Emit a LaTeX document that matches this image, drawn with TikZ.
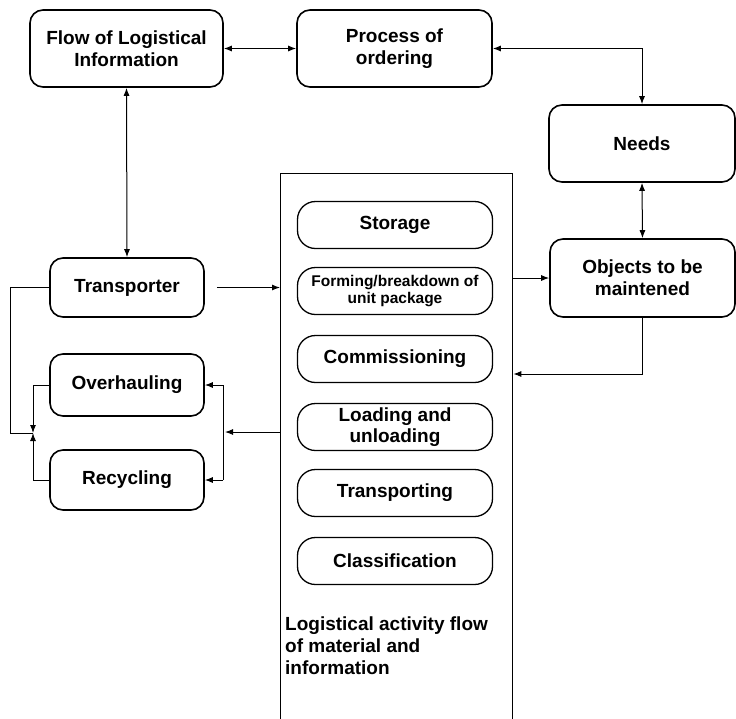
\documentclass[tikz,border=0pt]{standalone}
\usepackage{fontspec}
\setmainfont{Liberation Sans}
\usetikzlibrary{arrows.meta}
\tikzset{
  box/.style={draw, line width=1.6pt, rounded corners=13pt, align=center, font=\fontsize{19}{22}\selectfont\bfseries},
  actbox/.style={draw, line width=1.3pt, rounded corners=18pt, minimum width=195, minimum height=47, align=center, font=\fontsize{19}{21}\selectfont\bfseries},
  link/.style={line width=1pt, -{Latex[length=8pt,width=6pt]}},
  dlink/.style={line width=1pt, {Latex[length=8pt,width=6pt]}-{Latex[length=8pt,width=6pt]}}
}
\begin{document}
\begin{tikzpicture}[x=1pt,y=-1pt]
\useasboundingbox (0,0) rectangle (736,718);
\node [box, minimum width=193, minimum height=77] (flow) at (126.5,48.5) {Flow of Logistical\\Information};
\node [box, minimum width=195, minimum height=77] (order) at (394.5,48.5) {Process of\\ordering};
\node [box, minimum width=186, minimum height=77] (needs) at (642,143.5) {Needs};
\node [box, minimum width=185, minimum height=78] (objects) at (642.5,278) {Objects to be\\maintened};
\node [box, minimum width=154, minimum height=59] (transporter) at (127,287.5) {Transporter};
\node [box, minimum width=154, minimum height=62] (overhauling) at (127,385) {Overhauling};
\node [box, minimum width=154, minimum height=60] (recycling) at (127,480) {Recycling};
% activity column
\node [draw, line width=1.3pt, minimum width=232, minimum height=570, anchor=north west] (activity) at (280,173) {};
\node [actbox] (storage) at (395,225) {Storage};
\node [actbox, font=\fontsize{15.5}{17}\selectfont\bfseries] (forming) at (395,291) {Forming/breakdown of\\unit package};
\node [actbox] (commission) at (395,359) {Commissioning};
\node [actbox] (loading) at (395,427) {Loading and\\unloading};
\node [actbox] (transporting) at (395,493) {Transporting};
\node [actbox] (classify) at (395,561) {Classification};
\node [anchor=north west, align=left, inner sep=0pt, font=\fontsize{19}{22}\selectfont\bfseries] (label) at (285,617) {Logistical activity flow\\of material and\\information};
% connectors
\draw [dlink] (flow.east) -- (order.west);
\draw [dlink] (order.east) -| (needs.north);
\draw [dlink] (flow.south) -- (transporter.north);
\draw [dlink] (needs.south) -- (objects.north);
\draw [link, shorten <=12pt] (transporter.east) -- (activity.west |- transporter.east);
\draw [link] (activity.east |- 0,278) -- (objects.west |- 0,278);
\draw [link] (objects.south) |- (activity.east |- 0,374);
\coordinate (split) at (223,432);
\coordinate (join) at (33,433);
\draw [link] (activity.west |- split) -- ([xshift=2pt]split);
\draw [line width=1pt] (split |- overhauling.east) -- (split |- recycling.east);
\draw [link] (split |- overhauling.east) -- (overhauling.east);
\draw [link] (split |- recycling.east) -- (recycling.east);
\draw [line width=1pt] (transporter.west) -| (10,433) -- (join);
\draw [link] (overhauling.west) -| (join);
\draw [link] (recycling.west) -| (join);
\end{tikzpicture}
\end{document}
